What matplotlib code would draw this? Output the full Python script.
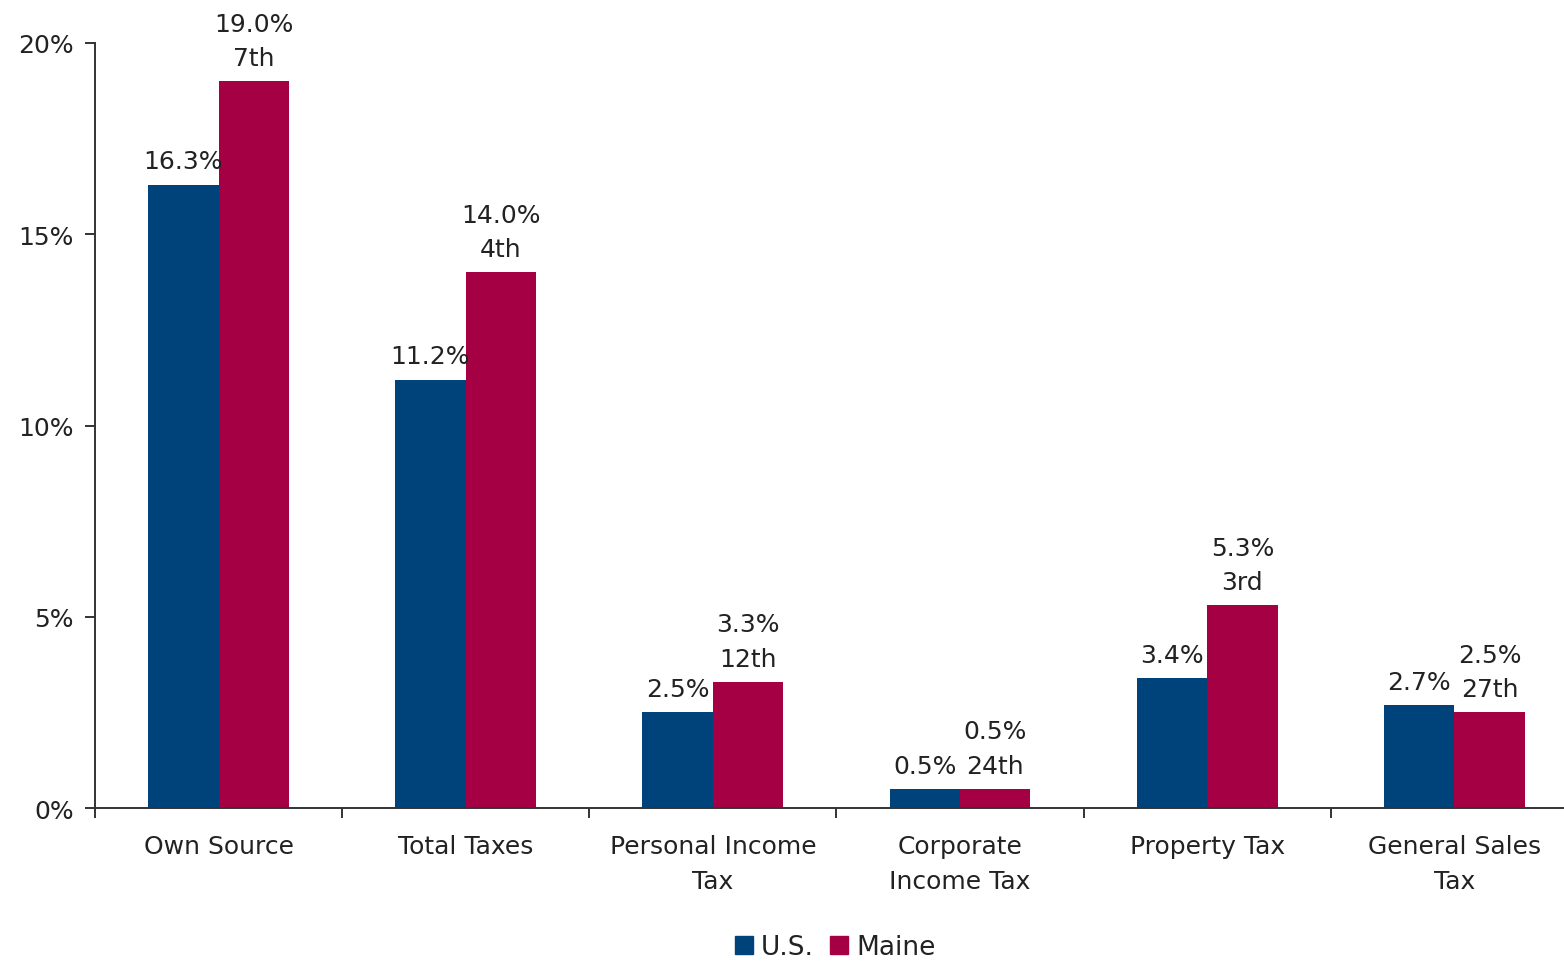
import matplotlib.pyplot as plt
from matplotlib.patches import Patch
import numpy as np

# data (% of personal income)
categories = ["Own Source", "Total Taxes", "Personal Income\nTax",
              "Corporate\nIncome Tax", "Property Tax", "General Sales\nTax"]
us_values = [16.3, 11.2, 2.5, 0.5, 3.4, 2.7]
maine_values = [19.0, 14.0, 3.3, 0.5, 5.3, 2.5]
maine_ranks = ["7th", "4th", "12th", "24th", "3rd", "27th"]
y_ticks = [0, 5, 10, 15, 20]

blue = "#00427A"
red = "#A50044"
txt = "#222222"

plt.rcParams['font.family'] = ['DejaVu Sans']
fs = 18

fig = plt.figure(figsize=(15.64, 9.62), dpi=100)
ax = fig.add_axes([0.0607, 0.159, 0.9387, 0.7953])

x = np.arange(len(categories))
w = 0.285
b1 = ax.bar(x - w / 2, us_values, w, color=blue, label="U.S.")
b2 = ax.bar(x + w / 2, maine_values, w, color=red, label="Maine")

for rect, v in zip(b1, us_values):
    ax.annotate(f"{v:.1f}%", (rect.get_x() + rect.get_width() / 2, v),
                xytext=(0, 8), textcoords="offset points",
                ha="center", va="bottom", fontsize=fs, color=txt)
for rect, v, r in zip(b2, maine_values, maine_ranks):
    ax.annotate(f"{v:.1f}%\n{r}", (rect.get_x() + rect.get_width() / 2, v),
                xytext=(0, 8), textcoords="offset points",
                ha="center", va="bottom", fontsize=fs, color=txt,
                linespacing=1.55)

ax.set_xlim(-0.5, 5.44)
ax.set_ylim(0, 20)
ax.set_yticks(y_ticks)
ax.set_yticklabels([f"{t}%" for t in y_ticks], fontsize=fs, color=txt)
ax.set_xticks(x)
ax.set_xticklabels(categories, fontsize=fs, color=txt, linespacing=1.55)
ax.set_xticks(np.arange(-0.5, 5.0, 1.0), minor=True)
ax.tick_params(axis="x", which="major", length=0, pad=19)
ax.tick_params(axis="x", which="minor", length=7, width=1.4, color="#333333")
ax.tick_params(axis="y", length=7, width=1.4, color="#333333", pad=8)

for s in ["top", "right"]:
    ax.spines[s].set_visible(False)
for s in ["left", "bottom"]:
    ax.spines[s].set_linewidth(1.4)
    ax.spines[s].set_color("#333333")

handles = [Patch(color=blue, label="U.S."), Patch(color=red, label="Maine")]
fig.legend(handles=handles, loc="lower center", bbox_to_anchor=(0.534, -0.024),
           ncol=2, frameon=False, fontsize=19, handlelength=0.7,
           handleheight=0.7, handletextpad=0.3, columnspacing=0.6,
           labelcolor=txt)

fig.savefig("out.png", dpi=100)
